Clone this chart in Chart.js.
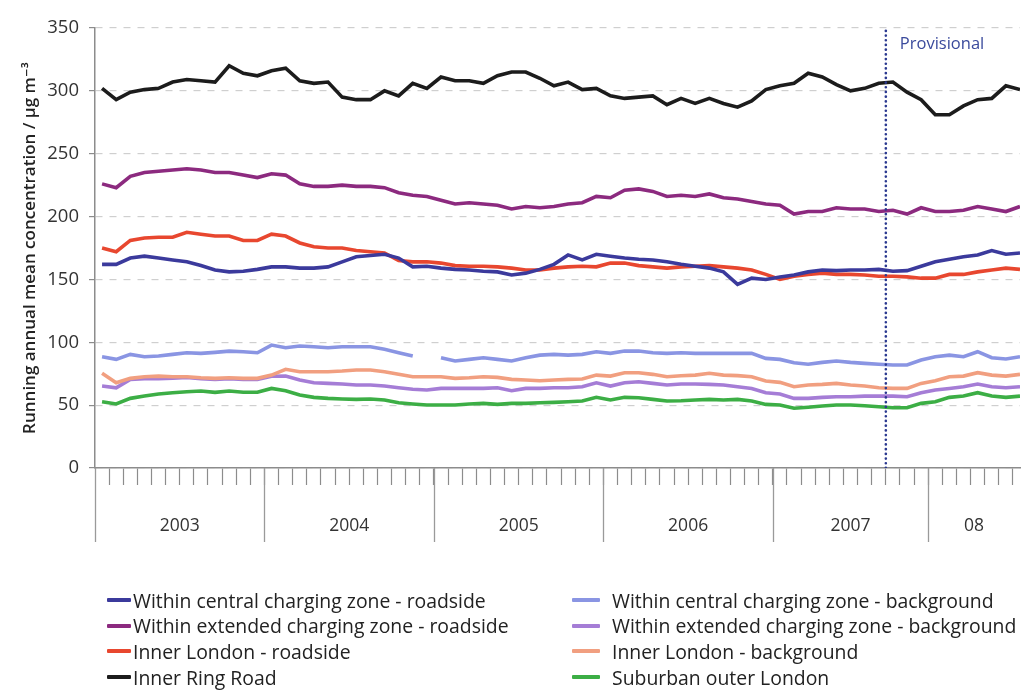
<!DOCTYPE html>
<html>
<head>
<meta charset="utf-8">
<title>Running annual mean NO2 concentrations</title>
<script src="https://cdn.jsdelivr.net/npm/chart.js@4.4.1/dist/chart.umd.min.js"></script>
<style>
  html, body { margin: 0; padding: 0; background: #ffffff; }
  #wrap { position: relative; width: 1023px; height: 691px; overflow: hidden; }
  #c { position: absolute; left: 0; top: 0; }
  #legend { position: absolute; left: 0; top: 0; width: 1023px; height: 691px; pointer-events: none;
            font-family: 'Open Sans', sans-serif; font-size: 19.4px; color: #222; }
  .item { position: absolute; display: flex; align-items: center; height: 24px; white-space: nowrap; }
  .sw { height: 4px; border-radius: 1px; }
</style>
</head>
<body>
<div id="wrap">
  <canvas id="c" width="1023" height="691"></canvas>
  <div id="legend"></div>
</div>
<script>
// Monthly running annual means, Jan 2003 onwards (one value per month, plotted mid-month)
const yearLabels = ['2003', '2004', '2005', '2006', '2007', '08'];
const yearBounds = [0, 12, 24, 36, 48, 59, 65.5];
const yTickValues = [0, 50, 100, 150, 200, 250, 300, 350];
const provisionalFrom = 56;

const centralRoadside = [162, 162, 167, 168.5, 167, 165.5, 164, 161, 157.5, 156, 156.5, 158, 160, 160, 159, 159, 160, 164, 168, 169, 170, 167, 160, 160.5, 159, 158, 157.5, 156.5, 156, 153.5, 155, 158, 162, 169.5, 165.5, 170, 168.5, 167, 166, 165.5, 164, 162, 160.5, 159, 156, 146, 151, 150, 152, 153.5, 156, 157.5, 157, 157.5, 157.5, 158, 156.5, 157, 160.5, 164, 166, 168, 169.5, 173, 170, 171];
const extendedRoadside = [226, 223, 232, 235, 236, 237, 238, 237, 235, 235, 233, 231, 234, 233, 226, 224, 224, 225, 224, 224, 223, 219, 217, 216, 213, 210, 211, 210, 209, 206, 208, 207, 208, 210, 211, 216, 215, 221, 222, 220, 216, 217, 216, 218, 215, 214, 212, 210, 209, 202, 204, 204, 207, 206, 206, 204, 205, 202, 207, 204, 204, 205, 208, 206, 204, 208];
const innerRoadside = [175, 172, 181, 183, 183.5, 183.5, 187.5, 186, 184.5, 184.5, 181, 181, 186, 184.5, 179, 176, 175, 175, 173, 172, 171, 165, 164, 164, 163, 161, 160.5, 160.5, 160, 159, 157.5, 157.5, 159, 160, 160.5, 160, 163, 163, 161, 160, 159, 160, 160.5, 161, 160, 159, 157.5, 154, 150, 152.5, 154, 155, 154, 154, 153.5, 152.5, 152.5, 152, 151, 151, 154, 154, 156, 157.5, 159, 158];
const innerRingRoad = [302, 293, 299, 301, 302, 307, 309, 308, 307, 320, 314, 312, 316, 318, 308, 306, 307, 295, 293, 293, 300, 296, 306, 302, 311, 308, 308, 306, 312, 315, 315, 310, 304, 307, 301, 302, 296, 294, 295, 296, 289, 294, 290, 294, 290, 287, 292, 301, 304, 306, 314, 311, 305, 300, 302, 306, 307, 299, 293, 281, 281, 288, 293, 294, 304, 301];
const centralBackground = [88.5, 86.4, 90.4, 88.5, 89.1, 90.4, 91.7, 91.2, 92, 93, 92.5, 91.7, 97.8, 95.7, 97, 96.4, 95.7, 96.4, 96.4, 96.4, 94.4, 91.7, 89.1, null, 87.7, 85.1, 86.4, 87.7, 86.4, 85.1, 87.7, 89.8, 90.4, 89.8, 90.4, 92.5, 91.2, 93, 93, 91.7, 91.2, 91.7, 91.2, 91.2, 91.2, 91.2, 91.2, 87.2, 86.4, 83.7, 82.5, 84, 85.1, 84, 83.2, 82.5, 81.9, 81.9, 85.9, 88.5, 89.8, 88.5, 92.5, 87.7, 86.7, 88.5];
const extendedBackground = [65.2, 63.8, 70.5, 71, 71, 71.5, 72, 71, 70.5, 71, 70.5, 70.5, 73, 73.1, 70, 67.8, 67.3, 66.8, 66, 66, 65.2, 63.8, 62.6, 62, 63.3, 63.3, 63.3, 63.3, 63.8, 61.5, 63.3, 63.3, 63.8, 63.8, 64.6, 67.8, 65.2, 67.8, 68.6, 67.3, 66, 66.8, 66.8, 66.5, 66, 64.6, 63.3, 59.9, 58.8, 55.4, 55.4, 56.2, 56.7, 56.7, 57.2, 57.2, 57.2, 56.7, 59.9, 62, 63.3, 64.6, 66.8, 64.6, 63.8, 64.6];
const innerBackground = [75.3, 67.8, 71.3, 72.6, 73.1, 72.6, 72.6, 71.8, 71.3, 71.8, 71.3, 71.3, 73.9, 78.5, 76.6, 76.6, 76.6, 77.1, 77.9, 77.9, 76.6, 74.5, 72.6, 72.6, 72.6, 71.3, 71.8, 72.6, 72.1, 70.5, 70, 69.4, 70, 70.5, 70.8, 73.9, 73.1, 75.8, 75.8, 74.5, 72.6, 73.4, 73.9, 75.3, 73.9, 73.5, 72.6, 69.2, 68.1, 64.6, 66, 66.5, 67.3, 66, 65.2, 63.8, 63.3, 63.3, 67.3, 69.4, 72.6, 73.1, 75.8, 73.9, 73.1, 74.5];
const suburbanOuter = [52.7, 50.9, 55.4, 57.2, 58.8, 59.9, 60.7, 61.2, 60.2, 61.2, 60.2, 60.2, 63.3, 61.5, 58, 56.2, 55.4, 54.9, 54.6, 54.9, 54.1, 51.9, 50.9, 50.1, 50.1, 50.1, 50.9, 51.4, 50.6, 51.4, 51.4, 51.9, 52.2, 52.7, 53.3, 56.2, 54.1, 56.2, 55.9, 54.6, 53.3, 53.5, 54.1, 54.6, 54.1, 54.6, 53.3, 50.6, 50.1, 47.5, 48.3, 49.3, 50.1, 50.1, 49.5, 48.7, 47.9, 47.9, 51.4, 52.7, 56.2, 57.2, 59.9, 57.2, 56.2, 57.2];

const FONT = "'Open Sans', 'DejaVu Sans', sans-serif";

// month i is plotted at the middle of its slot on the month axis
const toPoints = arr => arr.map((v, i) => ({ x: i + 0.5, y: v }));

const series = [
  { label: 'Within central charging zone - roadside',    data: centralRoadside,    color: '#3b3a9c', z: 2 },
  { label: 'Within extended charging zone - roadside',   data: extendedRoadside,   color: '#8c2a7f', z: 4 },
  { label: 'Inner London - roadside',                    data: innerRoadside,      color: '#e8472f', z: 3 },
  { label: 'Inner Ring Road',                            data: innerRingRoad,      color: '#1c1c1c', z: 1 },
  { label: 'Within central charging zone - background',  data: centralBackground,  color: '#8a95e3', z: 7 },
  { label: 'Within extended charging zone - background', data: extendedBackground, color: '#a57dd6', z: 6 },
  { label: 'Inner London - background',                  data: innerBackground,    color: '#f19f80', z: 5 },
  { label: 'Suburban outer London',                      data: suburbanOuter,      color: '#3cae45', z: 8 }
];

const datasets = series.map(s => ({
  label: s.label,
  data: toPoints(s.data),
  borderColor: s.color,
  backgroundColor: s.color,
  borderWidth: 3.6,
  pointRadius: 0,
  tension: 0,
  spanGaps: false,
  order: s.z
}));

// dotted marker where provisional data begin
datasets.push({
  label: 'Provisional',
  data: [{ x: provisionalFrom, y: 0 }, { x: provisionalFrom, y: 350 }],
  borderColor: '#2b3990',
  borderWidth: 2.6,
  borderDash: [0.1, 4.6],
  borderCapStyle: 'round',
  pointRadius: 0,
  order: 0
});

// year separators, year names and the "Provisional" note, positioned via the x scale
const yearBands = {
  id: 'yearBands',
  afterDraw(chart) {
    const { ctx, chartArea } = chart;
    const xs = chart.scales.x;
    ctx.save();
    ctx.strokeStyle = '#9a9a9a';
    ctx.lineWidth = 1.3;
    for (let i = 0; i < yearBounds.length - 1; i++) {
      const px = Math.round(xs.getPixelForValue(yearBounds[i])) + 0.5;
      ctx.beginPath();
      ctx.moveTo(px, chartArea.bottom);
      ctx.lineTo(px, chartArea.bottom + 74);
      ctx.stroke();
    }
    ctx.fillStyle = '#333';
    ctx.font = '17.5px ' + FONT;
    ctx.textAlign = 'center';
    ctx.textBaseline = 'middle';
    for (let i = 0; i < yearLabels.length; i++) {
      const mid = (yearBounds[i] + yearBounds[i + 1]) / 2;
      ctx.fillText(yearLabels[i], xs.getPixelForValue(mid), chartArea.bottom + 58);
    }
    ctx.fillStyle = '#3a4a9c';
    ctx.font = '16.5px ' + FONT;
    ctx.textAlign = 'left';
    ctx.fillText('Provisional', xs.getPixelForValue(provisionalFrom) + 14, chartArea.top + 16);
    ctx.restore();
  }
};

const chart = new Chart(document.getElementById('c'), {
  type: 'line',
  data: { datasets },
  options: {
    responsive: false,
    animation: false,
    devicePixelRatio: 1,
    layout: { padding: { top: 28, right: 3, left: 0, bottom: 0 } },
    plugins: { legend: { display: false }, tooltip: { enabled: false } },
    scales: {
      x: {
        type: 'linear',
        min: 0,
        max: 65.5,
        afterBuildTicks: scale => {
          const t = [];
          for (let m = 1; m <= 65; m++) t.push({ value: m });
          scale.ticks = t;
        },
        afterFit: scale => { scale.height = 223; },
        ticks: { autoSkip: false, callback: () => '' },
        grid: { drawOnChartArea: false, drawTicks: true, tickLength: 17, tickColor: '#8c8c8c', tickWidth: 1.2 },
        border: { display: true, color: '#8c8c8c', width: 1.5 }
      },
      y: {
        min: 0,
        max: 350,
        afterBuildTicks: scale => { scale.ticks = yTickValues.map(v => ({ value: v })); },
        afterFit: scale => { scale.width = 95; },
        ticks: { color: '#333', font: { family: FONT, size: 18.5 }, padding: 10 },
        grid: { color: '#cfcfcf', lineWidth: 1.2, drawTicks: true, tickLength: 6, tickColor: '#8c8c8c', tickWidth: 1.2 },
        border: { display: true, color: '#8c8c8c', width: 1.5, dash: [7, 7] },
        title: {
          display: true,
          text: 'Running annual mean concentration / µg m⁻³',
          color: '#222',
          font: { family: FONT, size: 17, weight: '600' },
          padding: { top: 20, bottom: 0 }
        }
      }
    }
  },
  plugins: [yearBands]
});

// two-column legend built from the datasets
const legendEl = document.getElementById('legend');
const rowY = [600, 625.5, 651, 677];
chart.data.datasets.slice(0, 8).forEach((ds, i) => {
  const col = i < 4 ? 0 : 1;
  const row = i % 4;
  const item = document.createElement('div');
  item.className = 'item';
  item.style.left = (col === 0 ? 107 : 572) + 'px';
  item.style.top = (rowY[row] - 12) + 'px';
  const sw = document.createElement('span');
  sw.className = 'sw';
  sw.style.width = (col === 0 ? 24 : 28) + 'px';
  sw.style.marginRight = (col === 0 ? 2 : 12) + 'px';
  sw.style.background = ds.borderColor;
  const tx = document.createElement('span');
  tx.textContent = ds.label;
  item.appendChild(sw);
  item.appendChild(tx);
  legendEl.appendChild(item);
});
</script>
</body>
</html>
